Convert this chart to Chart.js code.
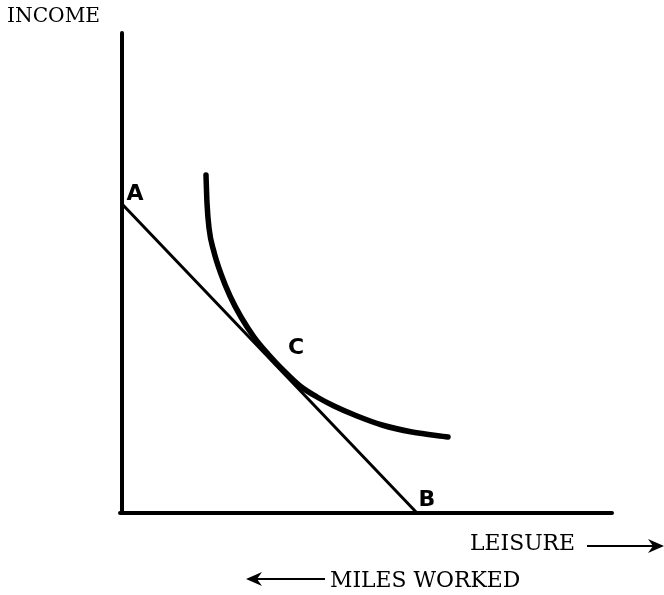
<!DOCTYPE html>
<html>
<head>
<meta charset="utf-8">
<script src="https://cdn.jsdelivr.net/npm/chart.js@4"></script>
<style>
  html, body { margin: 0; padding: 0; background: #fff; }
  #wrap { width: 664px; height: 595px; position: relative; }
</style>
</head>
<body>
<div id="wrap"><canvas id="chart"></canvas></div>
<script>
/* ── data (x = leisure, y = income; arbitrary units) ── */
const budgetLine = [ { x: 1, y: 308 }, { x: 295, y: 0 } ];           // A → B
const indifferenceCurve = [
    { x: 84, y: 338 }, { x: 85, y: 310 }, { x: 87, y: 285 }, { x: 92, y: 261 },
    { x: 99, y: 239 }, { x: 108, y: 217 }, { x: 119, y: 196 }, { x: 132, y: 176 },
    { x: 146, y: 159 }, { x: 162, y: 142 }, { x: 178, y: 127 }, { x: 195, y: 116 },
    { x: 212, y: 107 }, { x: 235, y: 97 }, { x: 260, y: 88 }, { x: 290, y: 81 },
    { x: 326, y: 76 }
];
const yAxisLine = [ { x: 0, y: 0 }, { x: 0, y: 480 } ];
const xAxisLine = [ { x: -2, y: 0 }, { x: 490, y: 0 } ];
const pointLabels = [
    { text: 'A', x: 1,   y: 308, dx: 12, dy: -11 },
    { text: 'B', x: 295, y: 0,   dx: 10, dy: -13 },
    { text: 'C', x: 162, y: 141, dx: 12, dy: -24 }
];

/* ── annotations drawn after the datasets ── */
const sketchText = {
    id: 'sketchText',
    afterDatasetsDraw(chart) {
        const { ctx, scales: { x, y } } = chart;
        ctx.save();
        ctx.fillStyle = '#000';
        ctx.strokeStyle = '#000';

        // point letters
        ctx.font = 'bold 22px "DejaVu Sans"';
        ctx.textAlign = 'center';
        ctx.textBaseline = 'middle';
        pointLabels.forEach(p => {
            ctx.fillText(p.text, x.getPixelForValue(p.x) + p.dx, y.getPixelForValue(p.y) + p.dy);
        });

        // axis titles, sized to the width they take in the sketch
        ctx.textAlign = 'left';
        ctx.textBaseline = 'alphabetic';
        const title = (t, left, base, width) => {
            ctx.font = '20px "DejaVu Serif"';
            const size = Math.min(22, 20 * width / ctx.measureText(t).width);
            ctx.font = size.toFixed(1) + 'px "DejaVu Serif"';
            ctx.fillText(t, left, base);
        };
        title('INCOME', 7, 22, 93);
        title('LEISURE', 470, 550, 105);
        title('MILES WORKED', 330, 587, 190);

        // arrows
        const arrow = (x1, x2, yy) => {
            ctx.lineWidth = 2;
            ctx.beginPath();
            ctx.moveTo(x1, yy);
            ctx.lineTo(x2, yy);
            ctx.stroke();
            const dir = Math.sign(x2 - x1);
            ctx.beginPath();
            ctx.moveTo(x2 + dir * 2, yy);
            ctx.lineTo(x2 - dir * 14, yy - 7);
            ctx.lineTo(x2 - dir * 9, yy);
            ctx.lineTo(x2 - dir * 14, yy + 7);
            ctx.closePath();
            ctx.fill();
        };
        arrow(587, 662, 546);
        arrow(325, 248, 579);
        ctx.restore();
    }
};

const line = (data, width, smooth) => ({
    data,
    showLine: true,
    borderColor: '#000',
    borderWidth: width,
    pointRadius: 0,
    cubicInterpolationMode: smooth ? 'monotone' : 'default',
    tension: smooth ? 0.4 : 0,
    borderCapStyle: 'round',
    borderJoinStyle: 'round',
    fill: false
});

new Chart(document.getElementById('chart'), {
    type: 'scatter',
    data: {
        datasets: [
            line(yAxisLine, 4),
            line(xAxisLine, 4),
            line(budgetLine, 3),
            line(indifferenceCurve, 5.5, true)
        ]
    },
    options: {
        responsive: true,
        maintainAspectRatio: false,
        animation: false,
        layout: { padding: { left: 122, right: 52, top: 33, bottom: 82 } },
        plugins: { legend: { display: false }, tooltip: { enabled: false } },
        scales: {
            x: { type: 'linear', min: 0, max: 490, display: false },
            y: { type: 'linear', min: 0, max: 480, display: false }
        },
        clip: false
    },
    plugins: [sketchText]
});
</script>
</body>
</html>
